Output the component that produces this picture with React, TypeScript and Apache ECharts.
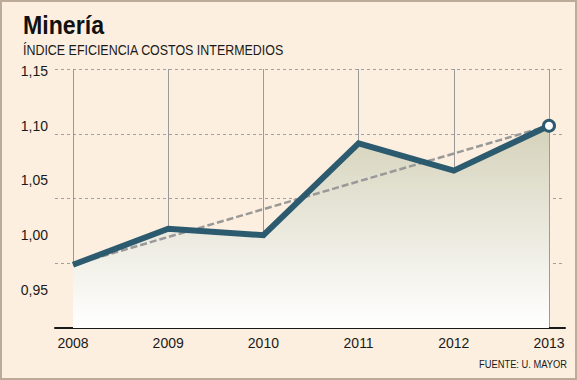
import React, { useEffect, useRef } from 'react';
import * as echarts from 'echarts';

const years = ['2008', '2009', '2010', '2011', '2012', '2013'];
const indexValues = [0.973, 1.006, 1.0, 1.084, 1.059, 1.1];
const trendValues = [0.973, null, null, null, null, 1.1];
const yTickValues = [0.95, 1.0, 1.05, 1.1, 1.15];
const titleText = 'Minería';
const subtitleText = 'ÍNDICE EFICIENCIA COSTOS INTERMEDIOS';
const sourceText = 'FUENTE: U. MAYOR';

const LINE = '#2c5a6f';
const FONT = '"Liberation Sans", Arial, sans-serif';
const TEXT = '#1a1a1a';

export default function App() {
  const ref = useRef<HTMLDivElement>(null);
  useEffect(() => {
    if (!ref.current) return;
    const chart = echarts.init(ref.current, undefined, { renderer: 'svg' });
    const last = indexValues.length - 1;
    chart.setOption({
      animation: false,
      backgroundColor: '#fcefdf',
      grid: [
        { left: 55, right: 12, top: 69, bottom: 52 },
        { left: 73, right: 28, top: 69, bottom: 52 },
      ],
      xAxis: [
        {
          gridIndex: 0,
          type: 'value',
          min: 0,
          max: 1,
          axisLine: { show: true, lineStyle: { color: TEXT, width: 2 } },
          axisTick: { show: false },
          axisLabel: { show: false },
          splitLine: { show: false },
        },
        {
          gridIndex: 1,
          type: 'category',
          data: years,
          boundaryGap: false,
          axisLine: { show: false },
          axisTick: { show: false },
          axisLabel: { fontSize: 14, color: TEXT, fontFamily: FONT, margin: 8 },
          splitLine: { show: true, lineStyle: { color: '#9a9a9a', width: 1 } },
        },
      ],
      yAxis: [
        {
          gridIndex: 0,
          type: 'value',
          min: 0,
          max: 4,
          interval: 1,
          axisLine: { show: false },
          axisTick: { show: false },
          axisLabel: { show: false },
          splitLine: { show: true, lineStyle: { color: '#a0a0a0', width: 1, type: [3, 3] } },
        },
        {
          gridIndex: 1,
          type: 'value',
          min: 0.9153,
          max: 1.1518,
          axisLine: { show: false },
          axisTick: { show: false },
          splitLine: { show: false },
          axisLabel: {
            customValues: yTickValues,
            formatter: (v: number) => v.toFixed(2).replace('.', ','),
            fontSize: 14,
            color: TEXT,
            fontFamily: FONT,
            margin: 25,
          },
        },
      ],
      series: [
        {
          type: 'line',
          xAxisIndex: 1,
          yAxisIndex: 1,
          data: indexValues,
          symbol: 'none',
          lineStyle: { width: 0 },
          areaStyle: {
            origin: 'start',
            opacity: 1,
            color: new echarts.graphic.LinearGradient(0, 0, 0, 1, [
              { offset: 0, color: '#d5d2ba' },
              { offset: 1, color: '#ffffff' },
            ]),
          },
          z: 1,
          silent: true,
        },
        {
          type: 'line',
          xAxisIndex: 1,
          yAxisIndex: 1,
          data: trendValues,
          connectNulls: true,
          symbol: 'none',
          lineStyle: { color: '#999999', width: 2.5, type: [7, 3] },
          z: 2,
          silent: true,
        },
        {
          type: 'line',
          xAxisIndex: 1,
          yAxisIndex: 1,
          data: indexValues,
          symbol: 'none',
          lineStyle: { color: LINE, width: 6, join: 'miter' },
          z: 3,
          silent: true,
        },
        {
          type: 'scatter',
          xAxisIndex: 1,
          yAxisIndex: 1,
          data: indexValues.map((v, i) => (i === last ? v : '-')),
          symbol: 'circle',
          symbolSize: 11,
          itemStyle: { color: '#ffffff', borderColor: LINE, borderWidth: 3, opacity: 1 },
          z: 4,
          silent: true,
        },
      ],
      graphic: [
        {
          type: 'text',
          x: 23,
          y: 25,
          scaleX: 0.89,
          style: {
            text: titleText,
            fontSize: 26,
            fontWeight: 'bold',
            fontFamily: FONT,
            fill: '#111111',
            align: 'left',
            verticalAlign: 'middle',
          },
        },
        {
          type: 'text',
          x: 23,
          y: 50,
          scaleX: 0.83,
          style: {
            text: subtitleText,
            fontSize: 15,
            fontFamily: FONT,
            fill: TEXT,
            align: 'left',
            verticalAlign: 'middle',
          },
        },
        {
          type: 'text',
          x: 567,
          y: 364.5,
          scaleX: 0.85,
          style: {
            text: sourceText,
            fontSize: 11,
            fontFamily: FONT,
            fill: TEXT,
            align: 'right',
            verticalAlign: 'middle',
          },
        },
        {
          type: 'rect',
          silent: true,
          shape: { x: 1, y: 1, width: 575, height: 378 },
          style: { fill: 'none', stroke: '#bcab99', lineWidth: 2 },
          z: 100,
        },
      ],
    });
    return () => chart.dispose();
  }, []);
  return (
    <div
      ref={ref}
      style={{ position: 'fixed', left: 0, top: 0, width: 577, height: 380 }}
    />
  );
}
